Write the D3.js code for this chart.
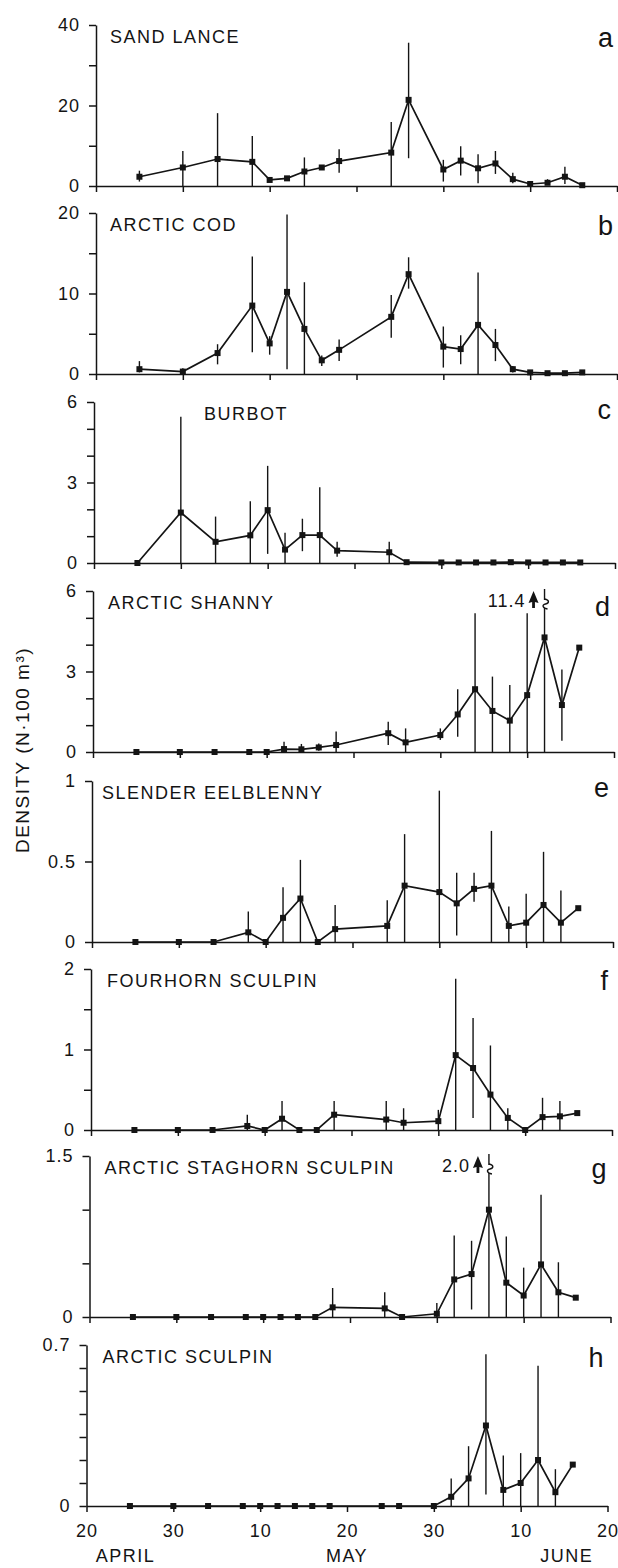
<!DOCTYPE html>
<html>
<head>
<meta charset="utf-8">
<script src="https://cdn.jsdelivr.net/npm/d3@7"></script>
<style>
  html, body { margin: 0; padding: 0; background: #fff; }
  svg { display: block; }
  text { font-family: "Liberation Sans", Arial, Helvetica, sans-serif; }
</style>
</head>
<body>
<svg id="chart" width="618" height="1568"></svg>
<script>
// Sampling dates, in days after 20 April
const sampleDay = [5, 10, 14, 18, 20, 22, 24, 26, 28, 34, 36, 40, 42, 44, 46, 48, 50, 52, 54, 56];

// Date axis
const tickDays = [0, 10, 20, 30, 40, 50, 60];
const tickLabels = ["20", "30", "10", "20", "30", "10", "20"];
const months = ["APRIL", "MAY", "JUNE"];
const monthDay = [4.5, 30, 55.3];

// Species and panel letters
const species = ["SAND LANCE", "ARCTIC COD", "BURBOT", "ARCTIC SHANNY",
  "SLENDER EELBLENNY", "FOURHORN SCULPIN", "ARCTIC STAGHORN SCULPIN", "ARCTIC SCULPIN"];
const panelLetters = ["a", "b", "c", "d", "e", "f", "g", "h"];

// Density axes (N per 100 m3)
const yMax = [40, 20, 6, 6, 1, 2, 1.5, 0.7];
const yStep = [10, 5, 1, 1, 0.5, 0.5, 0.5, 0.1];
const yLabeled = [[0, 20, 40], [0, 10, 20], [0, 3, 6], [0, 3, 6], [0, 0.5, 1], [0, 1, 2], [0, 1.5], [0, 0.7]];

// Mean density and range at each sampling date (null = no range drawn)
const sandLanceMean = [2.3, 4.6, 6.7, 6.0, 1.5, 1.9, 3.6, 4.6, 6.2, 8.3, 21.4, 4.1, 6.3, 4.4, 5.6, 1.7, 0.5, 0.8, 2.3, 0.2];
const sandLanceHi   = [3.8, 8.7, 18.1, 12.4, null, null, 7.1, null, 9.1, 15.9, 35.6, 6.5, 9.9, 7.9, 8.7, 3.3, null, 1.7, 4.8, null];
const sandLanceLo   = [1.1, 0, 0, 0, null, null, 0, null, 3.3, 0, 6.9, 1.1, 2.6, 0.7, 3.0, 0.7, null, 0.3, 0.5, null];

const arcticCodMean = [0.6, 0.3, 2.6, 8.5, 3.8, 10.2, 5.6, 1.7, 3.0, 7.1, 12.4, 3.4, 3.1, 6.1, 3.6, 0.6, 0.2, 0.1, 0.1, 0.2];
const arcticCodHi   = [1.6, 0.7, 3.7, 14.6, 4.7, 19.8, 11.4, 2.3, 4.3, 9.8, 14.5, 5.9, 4.8, 12.6, 5.6, 1.0, null, null, null, null];
const arcticCodLo   = [0.2, 0.1, 1.2, 2.7, 2.4, 0.6, 0, 1.0, 1.6, 4.5, 10.6, 0.8, 1.2, 0, 1.6, 0.2, null, null, null, null];

const burbotMean = [0, 1.88, 0.79, 1.03, 1.97, 0.5, 1.04, 1.04, 0.46, 0.4, 0.03, 0.02, 0.02, 0.02, 0.02, 0.03, 0.02, 0.02, 0.02, 0.02];
const burbotHi   = [null, 5.45, 1.73, 2.3, 3.62, 1.13, 1.65, 2.82, 0.79, 0.79, null, null, null, null, null, null, null, null, null, null];
const burbotLo   = [null, 0, 0, 0, 0.34, 0, 0.44, 0, 0.23, 0, null, null, null, null, null, null, null, null, null, null];

const shannyMean = [0, 0, 0, 0, 0, 0.11, 0.1, 0.17, 0.26, 0.7, 0.36, 0.63, 1.4, 2.34, 1.53, 1.17, 2.12, 4.27, 1.75, 3.89];
const shannyHi   = [null, null, null, null, null, 0.38, 0.3, 0.32, 0.76, 1.13, 0.88, 0.88, 2.34, 5.17, 2.81, 2.5, 5.17, 11.4, 3.07, null];
const shannyLo   = [null, null, null, null, null, 0, 0, 0.05, 0, 0.26, 0, 0.45, 0.57, 0, 0, 0, 0, 0, 0.42, null];

const eelblennyMean = [0, 0, 0, 0.06, 0, 0.15, 0.27, 0, 0.08, 0.1, 0.35, 0.31, 0.24, 0.33, 0.35, 0.1, 0.12, 0.23, 0.12, 0.21];
const eelblennyHi   = [null, null, null, 0.19, null, 0.34, 0.51, null, 0.23, 0.26, 0.67, 0.94, 0.43, 0.43, 0.69, 0.22, 0.3, 0.56, 0.32, null];
const eelblennyLo   = [null, null, null, 0, null, 0, 0, null, 0, 0, 0, 0, 0.04, 0.25, 0, 0, 0, 0, 0, null];

const fourhornMean = [0, 0, 0, 0.05, 0, 0.14, 0, 0, 0.19, 0.13, 0.09, 0.11, 0.93, 0.77, 0.44, 0.15, 0, 0.16, 0.17, 0.21];
const fourhornHi   = [null, null, null, 0.19, null, 0.36, null, null, 0.36, 0.36, 0.27, 0.25, 1.88, 1.39, 1.05, 0.27, null, 0.4, 0.36, null];
const fourhornLo   = [null, null, null, 0, null, 0, null, null, 0, 0, 0, 0, 0, 0.15, 0, 0, null, 0, 0, null];

const staghornMean = [0, 0, 0, 0, 0, 0, 0, 0, 0.09, 0.08, 0, 0.03, 0.35, 0.4, 1.0, 0.32, 0.2, 0.49, 0.23, 0.18];
const staghornHi   = [null, null, null, null, null, null, null, null, 0.27, 0.23, null, 0.13, 0.76, 0.71, 2.0, 0.75, 0.46, 1.14, 0.51, null];
const staghornLo   = [null, null, null, null, null, null, null, null, 0, 0, null, 0, 0, 0.07, 0, 0, 0, 0, 0, null];

const sculpinMean = [0, 0, 0, 0, 0, 0, 0, 0, 0, 0, 0, 0, 0.04, 0.12, 0.35, 0.07, 0.1, 0.2, 0.06, 0.18];
const sculpinHi   = [null, null, null, null, null, null, null, null, null, null, null, null, 0.12, 0.26, 0.66, 0.22, 0.23, 0.61, 0.16, null];
const sculpinLo   = [null, null, null, null, null, null, null, null, null, null, null, null, 0, 0, 0.05, 0, 0, 0, 0, null];

const meanSeries = [sandLanceMean, arcticCodMean, burbotMean, shannyMean, eelblennyMean, fourhornMean, staghornMean, sculpinMean];
const hiSeries = [sandLanceHi, arcticCodHi, burbotHi, shannyHi, eelblennyHi, fourhornHi, staghornHi, sculpinHi];
const loSeries = [sandLanceLo, arcticCodLo, burbotLo, shannyLo, eelblennyLo, fourhornLo, staghornLo, sculpinLo];

// Panel geometry
const panelTop = [25, 213, 402, 591, 781, 969, 1156, 1345];
const panelLeft = [96, 96, 94, 93, 92, 91, 89.5, 86.5];
const panelW = 521, panelH = 161;
const nameDx = [14, 14, 110, 15, 10, 16, 15, 16];
const letterDy = [22, 22, 17, 25, 16, 21, 22, 22];
const ink = "#141414";

const svg = d3.select("#chart");
const x = d3.scaleLinear().domain([0, 60]).range([0, panelW]);
const fmt1 = d3.format(".1f");

species.forEach((name, i) => {
  const mean = meanSeries[i], hi = hiSeries[i], lo = loSeries[i];
  const top = yMax[i];
  const y = d3.scaleLinear().domain([0, top]).range([panelH, 0]);
  const g = svg.append("g").attr("transform", `translate(${panelLeft[i]},${panelTop[i]})`);

  // axes
  const nT = Math.round(top / yStep[i]);
  const yTicks = d3.range(nT + 1).map(k => +(k * yStep[i]).toFixed(4));
  const yAx = g.append("g").call(
    d3.axisLeft(y).tickValues(yTicks).tickSize(7).tickSizeOuter(0).tickPadding(9)
      .tickFormat(v => yLabeled[i].some(l => Math.abs(l - v) < 1e-6) ? String(v) : ""));
  const xAx = g.append("g").attr("transform", `translate(0,${panelH})`).call(
    d3.axisBottom(x).tickValues(tickDays).tickSize(6).tickSizeOuter(0).tickPadding(12)
      .tickFormat((d, j) => i === species.length - 1 ? tickLabels[j] : ""));
  [yAx, xAx].forEach(ax => {
    ax.attr("font-size", 18).attr("font-family", null);
    ax.selectAll("path, line").attr("stroke", ink).attr("stroke-width", 1.5);
    ax.selectAll("text").attr("fill", ink).style("letter-spacing", "1px");
  });

  // range bars
  const bars = sampleDay.map((d, j) => ({ d, lo: lo[j], hi: hi[j] })).filter(b => b.hi != null);
  g.selectAll("line.range").data(bars).join("line")
    .attr("class", "range")
    .attr("x1", b => x(b.d)).attr("x2", b => x(b.d))
    .attr("y1", b => y(b.lo))
    .attr("y2", b => b.hi > top ? -2 : y(b.hi))
    .attr("stroke", ink).attr("stroke-width", 1.4);

  // off-scale ranges: break mark, arrow and value
  bars.filter(b => b.hi > top).forEach(b => {
    const bx = x(b.d);
    g.append("rect").attr("x", bx - 2).attr("y", 9).attr("width", 4).attr("height", 8).attr("fill", "#fff");
    g.append("path")
      .attr("d", `M${bx},8 c5,1 5,4 1,5 c-4,1 -3,4 2,5`)
      .attr("fill", "none").attr("stroke", ink).attr("stroke-width", 1.4);
    const ax = bx - 11;
    g.append("path")
      .attr("d", `M${ax},0 L${ax + 5},12 L${ax + 1.4},11 L${ax + 1.4},17 L${ax - 1.4},17 L${ax - 1.4},11 L${ax - 5},12 Z`)
      .attr("fill", ink);
    g.append("text").attr("x", ax - 8).attr("y", 16)
      .attr("text-anchor", "end").attr("font-size", 18).attr("fill", ink)
      .style("letter-spacing", "1px")
      .text(fmt1(b.hi));
  });

  // mean density line and markers
  const line = d3.line().x((d, j) => x(sampleDay[j])).y(d => y(d));
  g.append("path").datum(mean).attr("d", line)
    .attr("fill", "none").attr("stroke", ink).attr("stroke-width", 1.7).attr("stroke-linejoin", "miter");
  const m = 6;
  g.selectAll("rect.pt").data(mean).join("rect")
    .attr("class", "pt")
    .attr("x", (d, j) => x(sampleDay[j]) - m / 2)
    .attr("y", d => y(d) - m / 2)
    .attr("width", m).attr("height", m).attr("fill", ink);

  // species name and panel letter
  g.append("text").attr("x", nameDx[i]).attr("y", 17.5)
    .attr("font-size", 18).attr("fill", ink).style("letter-spacing", "1.5px")
    .text(name);
  g.append("text").attr("x", panelW - 4).attr("y", letterDy[i])
    .attr("text-anchor", "end").attr("font-size", 27).attr("fill", ink)
    .text(panelLetters[i]);

  // month names under the last panel
  if (i === species.length - 1) {
    g.selectAll("text.month").data(months).join("text")
      .attr("class", "month")
      .attr("x", (d, j) => x(monthDay[j])).attr("y", panelH + 56)
      .attr("text-anchor", "middle").attr("font-size", 18).attr("fill", ink)
      .style("letter-spacing", "1.5px")
      .text(d => d);
  }
});

// shared density label
svg.append("text")
  .attr("transform", "translate(29,750) rotate(-90)")
  .attr("text-anchor", "middle").attr("font-size", 19).attr("fill", ink)
  .style("letter-spacing", "1.5px")
  .text("DENSITY (N·100 m³)");
</script>
</body>
</html>
